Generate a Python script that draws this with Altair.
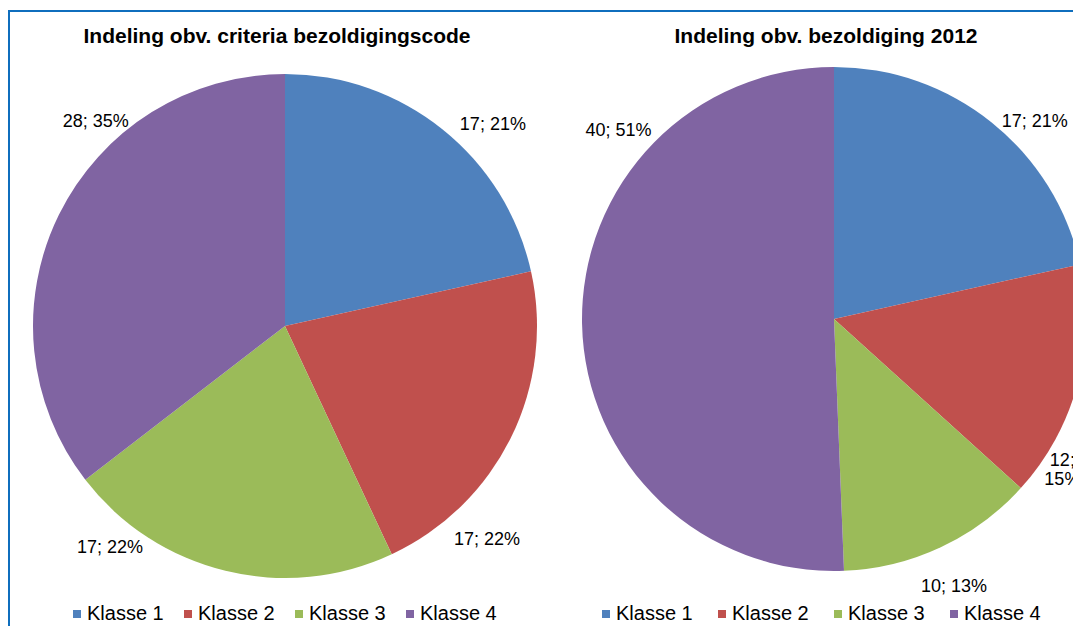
import math
import altair as alt
import pandas as pd

FONT = "Liberation Sans"

# ---- data -------------------------------------------------------------
panels = ["A", "B"]
panel_titles = ["Indeling obv. criteria bezoldigingscode", "Indeling obv. bezoldiging 2012"]
classes = ["Klasse 1", "Klasse 2", "Klasse 3", "Klasse 4"]
values_a = [17, 17, 17, 28]
pct_a = [21, 22, 22, 35]
values_b = [17, 12, 10, 40]
pct_b = [21, 15, 13, 51]
colors = ["#4F81BD", "#C0504D", "#9BBB59", "#8064A2"]

# ---- label layout (Excel's placement; polar around each pie centre) ----
label_theta = {"A": [46.0, 136.6, 218.2, 317.1], "B": [45.6, 121.9, 155.9, 311.1]}
label_r = {"A": [289, 294, 283, 278], "B": [281, 269, 294, 286]}
label_wrap = {"A": [False, False, False, False], "B": [False, True, False, False]}

rows = []
for panel, vals, pcts in [("A", values_a, pct_a), ("B", values_b, pct_b)]:
    for i, (k, v, p) in enumerate(zip(classes, vals, pcts)):
        sep = "\n" if label_wrap[panel][i] else " "
        rows.append(dict(panel=panel, klasse=k, order=i, value=v,
                         label=f"{v};{sep}{p}%",
                         lt=label_theta[panel][i], lr=label_r[panel][i]))
df = pd.DataFrame(rows)
titles_df = pd.DataFrame({"panel": panels, "title": panel_titles})

x_scale = alt.Scale(type="point", domain=panels, range=[276, 825], padding=0)
y_scale = alt.Scale(type="point", domain=panels, range=[315, 308], padding=0)


def pie(panel, legend_x, col_pad):
    return alt.Chart(df).transform_filter(alt.datum.panel == panel).mark_arc(radius=252).encode(
        theta=alt.Theta("value:Q", stack="normalize"),
        order=alt.Order("order:Q", sort="ascending"),
        color=alt.Color(
            "klasse:N",
            scale=alt.Scale(domain=classes, range=colors),
            legend=alt.Legend(
                orient="none", legendX=legend_x, legendY=593, direction="horizontal",
                title=None, symbolType="square", symbolSize=64, symbolStrokeWidth=0,
                labelFont=FONT, labelFontSize=20, labelColor="black", labelOffset=0,
                columnPadding=col_pad,
            ),
        ),
        x=alt.X("panel:N", scale=x_scale, axis=None),
        y=alt.Y("panel:N", scale=y_scale, axis=None),
    )


pie_a = pie("A", 58, 14)
pie_b = pie("B", 587, 19)

labels = alt.Chart(df).mark_text(
    font=FONT, fontSize=18, color="black", lineBreak="\n", lineHeight=19,
    align="center", baseline="middle",
).encode(
    theta=alt.Theta("lt:Q", scale=alt.Scale(domain=[0, 360], range=[0, 2 * math.pi]), stack=False),
    radius=alt.Radius("lr:Q", scale=None),
    text="label:N",
    x=alt.X("panel:N", scale=x_scale, axis=None),
    y=alt.Y("panel:N", scale=y_scale, axis=None),
)

titles = alt.Chart(titles_df).mark_text(
    font=FONT, fontSize=21, fontWeight="bold", color="black",
    baseline="alphabetic", align="center", dx=-8,
).encode(
    x=alt.X("panel:N", scale=x_scale, axis=None),
    y=alt.value(32),
    text="title:N",
)

chart = (
    alt.layer(pie_a, pie_b, labels, titles)
    .resolve_scale(color="independent", theta="independent")
    .properties(
        width=1076, height=622,
        padding={"left": 1, "top": 3, "right": -12, "bottom": -7},
        autosize=alt.AutoSizeParams(type="none"),
        background="white",
    )
    .configure_view(stroke="#0F6EBD", strokeWidth=2)
)

chart.save("out.html", embed_options={"renderer": "svg", "actions": False})
